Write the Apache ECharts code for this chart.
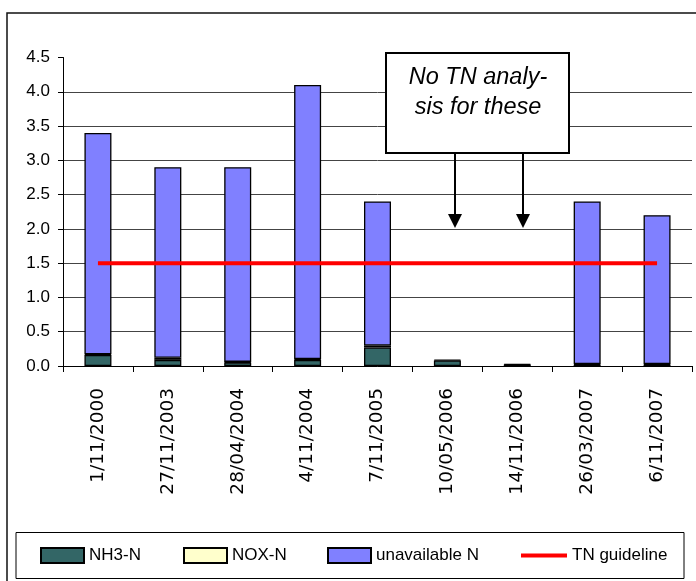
<!DOCTYPE html>
<html>
<head>
<meta charset="utf-8">
<script src="https://cdn.jsdelivr.net/npm/echarts@6/dist/echarts.min.js"></script>
<style>html,body{margin:0;padding:0;background:#fff}#c{width:696px;height:581px}</style>
</head>
<body>
<div id="c"></div>
<script>
var categories = ['1/11/2000','27/11/2003','28/04/2004','4/11/2004','7/11/2005','10/05/2006','14/11/2006','26/03/2007','6/11/2007'];
var nh3 = [0.16, 0.09, 0.05, 0.09, 0.27, 0.08, 0.02, 0.02, 0.02];
var nox = [0.01, 0.03, 0.01, 0.01, 0.03, 0.01, 0.01, 0.01, 0.01];
var unavailable = [3.23, 2.78, 2.84, 4.00, 2.10, null, null, 2.37, 2.17];
var guideline = [1.5, 1.5, 1.5, 1.5, 1.5, 1.5, 1.5, 1.5, 1.5];
var yTicks = ['0.0','0.5','1.0','1.5','2.0','2.5','3.0','3.5','4.0','4.5'];

var chart = echarts.init(document.getElementById('c'), null, {renderer: 'canvas'});
var font = 'Liberation Sans, Arial, sans-serif';
var legendText = {color: '#000', fontSize: 17, fontFamily: font};
function lg(name, left, opts) {
  return Object.assign({
    data: [name], left: left, top: 547, itemWidth: 43, itemHeight: 15, itemGap: 0,
    icon: 'rect', textStyle: legendText, padding: 0, selectedMode: false
  }, opts || {});
}
chart.setOption({
  animation: false,
  grid: {left: 63, right: 4, top: 57.5, bottom: 215, containLabel: false},
  xAxis: {
    type: 'category', data: categories, boundaryGap: true,
    axisLine: {lineStyle: {color: '#000', width: 1}},
    axisTick: {show: true, interval: 0, length: 6, lineStyle: {color: '#000'}},
    axisLabel: {interval: 0, rotate: 90, margin: 22, color: '#000', fontSize: 18.5, fontFamily: 'DejaVu Sans, sans-serif'}
  },
  yAxis: {
    type: 'value', min: 0, max: 4.5, interval: 0.5,
    axisLine: {show: true, lineStyle: {color: '#000', width: 1}},
    axisTick: {show: true, length: 5, lineStyle: {color: '#000'}},
    axisLabel: {margin: 13, color: '#000', fontSize: 17, fontFamily: font,
      formatter: function (v) { return yTicks[Math.round(v / 0.5)]; }},
    splitLine: {show: true, lineStyle: {color: ['#444','#444','#444','#444','#444','#444','#444','#444','#444','rgba(0,0,0,0)'], width: 1}}
  },
  legend: [
    lg('NH3-N', 40),
    lg('NOX-N', 183),
    lg('unavailable N', 327),
    lg('TN guideline', 521, {itemWidth: 46, itemHeight: 4, itemStyle: {borderWidth: 0}})
  ],
  series: [
    {name: 'NH3-N', type: 'bar', stack: 'n', data: nh3, barWidth: 27,
      itemStyle: {color: '#336666', borderColor: '#000', borderWidth: 1.3}},
    {name: 'NOX-N', type: 'bar', stack: 'n', data: nox, barWidth: 27,
      itemStyle: {color: '#FFFFCC', borderColor: '#000', borderWidth: 1.3}},
    {name: 'unavailable N', type: 'bar', stack: 'n', data: unavailable, barWidth: 27,
      itemStyle: {color: '#8080FF', borderColor: '#000', borderWidth: 1.3}},
    {name: 'TN guideline', type: 'line', data: guideline, symbol: 'none', z: 5,
      lineStyle: {color: '#FF0000', width: 4}, itemStyle: {color: '#FF0000'}}
  ],
  graphic: [
    {type: 'rect', shape: {x: 7, y: 13, width: 720, height: 620}, style: {fill: 'none', stroke: '#111', lineWidth: 1.5}, silent: true},
    {type: 'rect', shape: {x: 16, y: 532.5, width: 668, height: 46}, style: {fill: 'none', stroke: '#000', lineWidth: 1}, silent: true, z: -1},
    {type: 'rect', shape: {x: 386, y: 53, width: 183, height: 100}, style: {fill: '#fff', stroke: '#000', lineWidth: 2}, z: 10},
    {type: 'text', x: 478, y: 92, style: {text: 'No TN analy-\nsis for these', fill: '#000', font: 'italic 23.5px Liberation Sans, Arial, sans-serif', align: 'center', verticalAlign: 'middle', lineHeight: 30}, z: 11},
    {type: 'line', shape: {x1: 455, y1: 153, x2: 455, y2: 216}, style: {stroke: '#000', lineWidth: 2}, z: 10},
    {type: 'polygon', shape: {points: [[448, 214], [462, 214], [455, 228]]}, style: {fill: '#000'}, z: 10},
    {type: 'line', shape: {x1: 523, y1: 153, x2: 523, y2: 216}, style: {stroke: '#000', lineWidth: 2}, z: 10},
    {type: 'polygon', shape: {points: [[516, 214], [530, 214], [523, 228]]}, style: {fill: '#000'}, z: 10}
  ]
});
</script>
</body>
</html>
